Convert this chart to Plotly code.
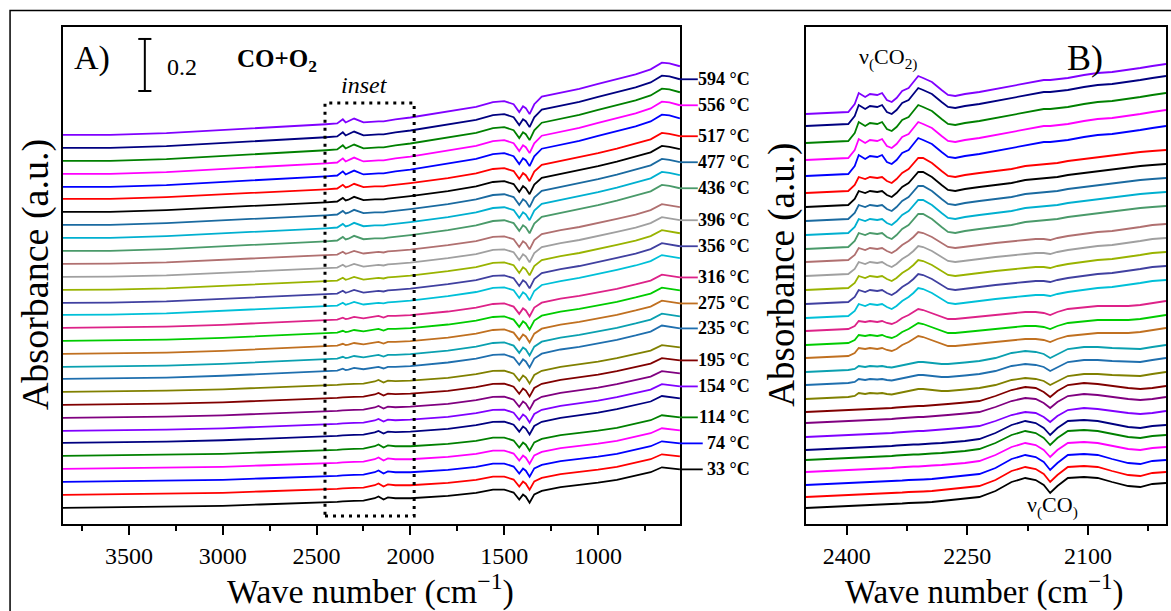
import numpy as np
import plotly.graph_objects as go

# ---------------- data: panel A (full range) ----------------
WN_A = [3851, 3600, 3300, 3000, 2800, 2600, 2450, 2390, 2360, 2345, 2330, 2300, 2250,
        2190, 2170, 2143, 2120, 2080, 2000, 1800, 1650, 1560, 1500, 1450, 1420, 1400,
        1385, 1365, 1340, 1300, 1200, 1100, 1000, 900, 800, 720, 660, 620, 564]

# spectral profiles (a.u., relative to each curve's 3850 cm-1 level)
PROFILE_A0 = [0, .002, .004, .008, .013, .017, .021, .023, .025, .025, .025, .027, .028, .037, .044, .032, .040, .037, .037,
              .046, .058, .070, .070, .059, .032, .051, .043, .020, .052, .065, .080, .088, .097, .108, .124, .137, .156, .152, .148]
PROFILE_A1 = [0, .002, .005, .010, .015, .020, .025, .027, .029, .029, .030, .031, .032, .040, .046, .036, .043, .041, .043,
              .054, .068, .081, .082, .070, .043, .063, .055, .032, .065, .081, .096, .106, .116, .130, .146, .159, .180, .177, .171]
PROFILE_A2 = [0, .001, .005, .012, .018, .023, .029, .032, .039, .034, .036, .042, .037, .042, .046, .040, .046, .046, .049,
              .063, .078, .092, .094, .082, .054, .075, .067, .044, .078, .097, .113, .123, .136, .150, .167, .182, .205, .201, .194]
PROFILE_A3 = [0, .001, .006, .015, .021, .027, .033, .036, .047, .039, .042, .050, .040, .045, .046, .044, .048, .050, .055,
              .072, .088, .104, .106, .095, .065, .087, .079, .056, .092, .115, .130, .142, .157, .173, .190, .207, .230, .226, .218]
PROFILE_A4 = [0, .000, .007, .017, .023, .030, .037, .040, .054, .044, .047, .058, .045, .048, .048, .048, .051, .055, .061,
              .080, .098, .115, .118, .107, .077, .099, .091, .068, .105, .131, .146, .160, .176, .193, .212, .229, .254, .250, .241]
PROFILE_A5 = [0, 0, .007, .018, .026, .033, .041, .044, .060, .048, .052, .063, .048, .052, .052, .052, .056, .060, .067,
              .089, .108, .126, .130, .118, .088, .110, .103, .080, .118, .147, .163, .177, .196, .215, .233, .252, .278, .275, .264]

# stacking offset of each spectrum (bottom -> top) and which profile it follows
OFFSET_A = [.062, .112, .162, .212, .262, .312, .358, .408, .458, .508, .558, .604, .654, .704, .754,
            .804, .850, .900, .950, 1.000, 1.050, 1.100, 1.150, 1.200, 1.250, 1.296, 1.346, 1.396, 1.446, 1.496]
GROUP_A = [0, 0, 0, 0, 0, 1, 1, 1, 1, 1, 2, 2, 2, 2, 2, 3, 3, 3, 3, 3, 4, 4, 4, 4, 4, 5, 5, 5, 5, 5]

# ---------------- data: panel B (inset 2450-2000 cm-1) ----------------
WN_B = [2451, 2420, 2398, 2390, 2385, 2377, 2371, 2362, 2356, 2350, 2344, 2338, 2331, 2323, 2317, 2311, 2305, 2294, 2282,
        2274, 2265, 2253, 2235, 2215, 2195, 2178, 2165, 2155, 2147, 2138, 2125, 2105, 2088, 2070, 2050, 2035, 2020, 2003]
PROFILE_B0 = [0, .01, .02, .02, .025, .025, .03, .03, .035, .035, .04, .04, .045, .05, .05, .055, .055, .06, .07,
              .07, .08, .09, .11, .17, .26, .30, .28, .23, .15, .22, .30, .31, .30, .26, .22, .21, .24, .25]
PROFILE_B1 = [0, .01, .02, .02, .025, .03, .03, .035, .035, .04, .04, .045, .05, .05, .055, .055, .06, .065, .07,
              .075, .08, .09, .11, .17, .25, .29, .27, .22, .15, .22, .29, .30, .29, .26, .23, .22, .24, .25]
PROFILE_B2 = [0, .01, .02, .02, .025, .03, .03, .035, .035, .04, .04, .045, .05, .055, .055, .06, .06, .07, .075,
              .08, .085, .095, .11, .16, .22, .25, .24, .20, .15, .21, .27, .29, .28, .26, .24, .23, .24, .26]
PROFILE_B3 = [0, .01, .02, .03, .06, .05, .06, .055, .06, .05, .045, .055, .07, .08, .09, .10, .10, .09, .08,
              .08, .085, .095, .11, .14, .19, .21, .20, .18, .14, .18, .23, .25, .25, .24, .23, .23, .25, .27]
PROFILE_B4 = [0, .01, .02, .05, .10, .09, .10, .09, .10, .08, .07, .09, .13, .16, .19, .22, .21, .18, .14,
              .12, .12, .13, .14, .16, .18, .19, .19, .18, .16, .19, .22, .24, .25, .25, .25, .26, .28, .30]
PROFILE_B5 = [0, .01, .02, .07, .14, .12, .14, .13, .14, .11, .09, .12, .17, .21, .25, .30, .29, .25, .19,
              .15, .14, .15, .17, .19, .21, .22, .23, .23, .22, .24, .26, .28, .30, .31, .33, .35, .37, .38]
PROFILE_B6 = [0, .01, .02, .08, .16, .14, .16, .15, .16, .12, .10, .14, .20, .24, .30, .35, .35, .30, .22,
              .17, .16, .18, .20, .22, .24, .27, .28, .29, .29, .30, .32, .34, .36, .38, .40, .41, .42, .43]
PROFILE_B7 = [0, .01, .02, .10, .21, .17, .20, .19, .21, .14, .12, .16, .23, .26, .32, .38, .36, .32, .24,
              .19, .18, .20, .22, .25, .28, .31, .33, .34, .34, .35, .36, .39, .41, .42, .44, .46, .48, .50]
OFFSET_B = [.16, .27, .39, .52, .64, .74, .87, 1.01, 1.12, 1.25, 1.39, 1.52, 1.66, 1.79, 1.93,
            2.06, 2.20, 2.34, 2.48, 2.62, 2.75, 2.89, 3.03, 3.17, 3.31, 3.48, 3.64, 3.81, 3.98, 4.10]
GROUP_B = [0, 0, 0, 1, 1, 1, 2, 2, 2, 3, 3, 3, 4, 4, 4, 5, 5, 5, 5, 5, 6, 6, 6, 6, 6, 7, 7, 7, 7, 7]

# temperatures labelled (every second spectrum, from the bottom)
LABELED_TEMPS = [33, 74, 114, 154, 195, 235, 275, 316, 356, 396, 436, 477, 517, 556, 594]

COLORS = ["#000000", "#ff0000", "#0000ff", "#ff00ff", "#008000", "#000080", "#8000ff", "#800080",
          "#800000", "#808000", "#1f6fae", "#0aa0b0", "#c07020", "#00cc00", "#dd2288", "#00c0d8",
          "#4040a0", "#99b300", "#a0a0a0", "#b07070", "#4a9a6a", "#00b0d0", "#1a6aa0", "#000000",
          "#ff0000", "#0000ff", "#ff00ff", "#008000", "#000080", "#8000ff"]

PROFILES_A = [PROFILE_A0, PROFILE_A1, PROFILE_A2, PROFILE_A3, PROFILE_A4, PROFILE_A5]
PROFILES_B = [PROFILE_B0, PROFILE_B1, PROFILE_B2, PROFILE_B3, PROFILE_B4, PROFILE_B5, PROFILE_B6, PROFILE_B7]

FONT = "Liberation Serif"
fig = go.Figure()

ends_A = []
for i in range(len(OFFSET_A)):
    ya = np.array(PROFILES_A[GROUP_A[i]]) + OFFSET_A[i]
    ends_A.append(ya[-1])
    fig.add_trace(go.Scatter(x=WN_A, y=ya, mode="lines", xaxis="x", yaxis="y",
                             line=dict(color=COLORS[i], width=1.8), showlegend=False, hoverinfo="skip"))
    yb = np.array(PROFILES_B[GROUP_B[i]]) + OFFSET_B[i]
    fig.add_trace(go.Scatter(x=WN_B, y=yb, mode="lines", xaxis="x2", yaxis="y2",
                             line=dict(color=COLORS[i], width=1.8), showlegend=False, hoverinfo="skip"))

axis_common = dict(showline=True, linecolor="black", linewidth=2, mirror=True, showgrid=False,
                   zeroline=False)
fig.update_layout(
    width=1171, height=611,
    margin=dict(l=63, r=3, t=27, b=87),
    paper_bgcolor="white", plot_bgcolor="white",
    font=dict(family=FONT, color="black"),
    xaxis=dict(domain=[0, 0.5593], range=[3851, 564], anchor="y", ticks="outside", ticklen=9, tickwidth=2,
               tickcolor="black", tick0=0, dtick=500, tickfont=dict(size=24, family=FONT),
               minor=dict(ticks="outside", ticklen=5, tickwidth=2, tickcolor="black", dtick=250, tick0=0),
               **axis_common),
    yaxis=dict(domain=[0, 1], range=[0, 1.911], anchor="x", showticklabels=False, ticks="", **axis_common),
    xaxis2=dict(domain=[0.6733, 1], range=[2451, 2003], anchor="y2", ticks="outside", ticklen=9, tickwidth=2,
                tickcolor="black", tick0=0, dtick=150, tickfont=dict(size=24, family=FONT),
                minor=dict(ticks="outside", ticklen=5, tickwidth=2, tickcolor="black", dtick=75, tick0=0),
                **axis_common),
    yaxis2=dict(domain=[0, 1], range=[0, 4.97], anchor="x2", showticklabels=False, ticks="", **axis_common),
)

shapes = []
# outer frame of the figure
shapes.append(dict(type="rect", xref="paper", yref="paper", x0=-0.048, x1=1.2, y0=-0.3, y1=1.0332,
                   line=dict(color="black", width=1.5)))
# dotted "inset" box
shapes.append(dict(type="rect", xref="x", yref="y", x0=2455, x1=1980, y0=0.031, y1=1.619,
                   line=dict(color="black", width=3, dash="3px,5px")))
# 0.2 scale bar
shapes.append(dict(type="line", xref="x", yref="y", x0=3415, x1=3415, y0=1.665, y1=1.865,
                   line=dict(color="black", width=2)))
for yy in (1.665, 1.865):
    shapes.append(dict(type="line", xref="x", yref="y", x0=3450, x1=3380, y0=yy, y1=yy,
                       line=dict(color="black", width=2)))

annotations = []
for k, t in enumerate(LABELED_TEMPS):
    i = 2 * k
    x_end = 1.037 if t < 100 else 1.029
    shapes.append(dict(type="line", xref="x domain", yref="y", x0=1.0, x1=x_end, y0=ends_A[i], y1=ends_A[i],
                       line=dict(color=COLORS[i], width=1.8)))
    annotations.append(dict(text=f"<b>{t} °C</b>", xref="paper", yref="y", x=0.6244, y=ends_A[i],
                            xanchor="right", yanchor="middle", showarrow=False,
                            font=dict(size=18, family=FONT, color="black")))

def txt(text, x, y, size, **kw):
    d = dict(text=text, xref="paper", yref="paper", x=x, y=y, showarrow=False,
             xanchor="center", yanchor="middle", font=dict(size=size, family=FONT, color="black"))
    d.update(kw)
    annotations.append(d)

txt("A)", 0.026, 0.9376, 34)
txt("0.2", 0.1077, 0.9195, 24)
txt("<b>CO+O<sub>2</sub></b>", 0.1937, 0.9336, 25)
txt("<i>inset</i>", 0.2733, 0.8833, 24)
txt("B)", 0.9267, 0.9376, 36)
txt("ν<sub>(</sub>CO<sub>2)</sub>", 0.7484, 0.9376, 22)
txt("ν<sub>(</sub>CO<sub>)</sub>", 0.8968, 0.0362, 22)
txt("Wave number (cm<sup>−1</sup>)", 0.2787, -0.1308, 34)
txt("Wave number (cm<sup>−1</sup>)", 0.8353, -0.1308, 33)
txt("Absorbance (a.u.)", -0.0253, 0.501, 38, textangle=-90)
txt("Absorbance (a.u.)", 0.6516, 0.501, 37, textangle=-90)

fig.update_layout(shapes=shapes, annotations=annotations)
fig.write_html("out.html", config={"displayModeBar": False},
               post_script="document.body.style.margin='0';document.body.style.overflow='hidden';")
